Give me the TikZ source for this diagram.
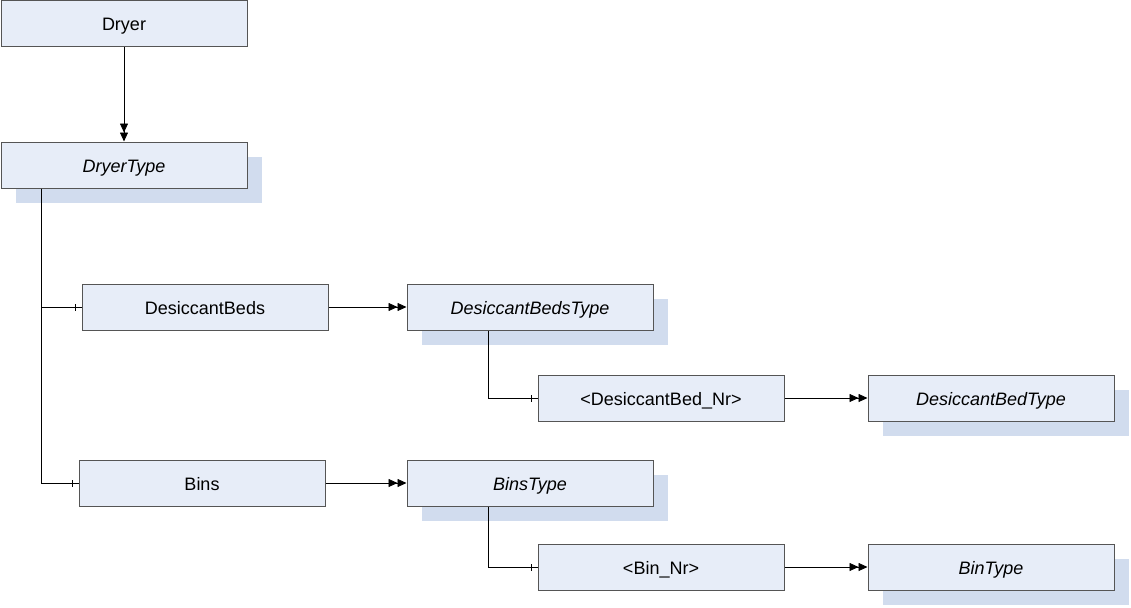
\documentclass[tikz,border=0pt]{standalone}
\usepackage{fontspec}
\setmainfont{Liberation Sans}
\usetikzlibrary{arrows.meta,shadows,decorations.markings}
\definecolor{boxfill}{HTML}{E7EDF8}
\definecolor{shadowfill}{HTML}{D1DCEE}
\definecolor{boxline}{HTML}{555555}
\tikzset{
  elem/.style={draw=boxline, line width=1pt, fill=boxfill, minimum width=246pt, minimum height=46pt,
    inner sep=0pt, text height=14.5pt, text depth=0.5pt, font=\fontsize{18}{21}\selectfont},
  typebox/.style={elem, font=\fontsize{18}{21}\selectfont\itshape,
    general shadow={fill=shadowfill, shadow xshift=15pt, shadow yshift=-15pt}},
  link/.style={line width=0.8pt, -{Triangle[length=9pt,width=8pt]Triangle[length=9pt,width=8pt]}},
  member/.style={line width=0.8pt, postaction={decorate},
    decoration={markings, mark=at position -6.5pt with {\draw[line width=0.8pt] (0,-3.5pt)--(0,3.5pt);}}}
}
\begin{document}
\begin{tikzpicture}[x=1pt,y=-1pt]
\useasboundingbox (0,0) rectangle (1131,607);
\node[elem] (Dryer) at (124,24) {Dryer};
\node[typebox] (DryerType) at (124,165) {DryerType};
\node[elem] (DesBeds) at (205,307) {DesiccantBeds};
\node[typebox] (DesBedsType) at (530,307) {DesiccantBedsType};
\node[elem] (DesBedNr) at (661,398) {<DesiccantBed\_Nr>};
\node[typebox] (DesBedType) at (991,398) {DesiccantBedType};
\node[elem] (Bins) at (202,483) {Bins};
\node[typebox] (BinsType) at (530,483) {BinsType};
\node[elem] (BinNr) at (661,567) {<Bin\_Nr>};
\node[typebox] (BinType) at (991,567) {BinType};

\draw[link] (Dryer) -- (DryerType);
\draw[member] (DryerType.south west) ++(41,0) |- (DesBeds.west);
\draw[member] (DryerType.south west) ++(41,0) |- (Bins.west);
\draw[link] (DesBeds) -- (DesBedsType);
\draw[link] (Bins) -- (BinsType);
\draw[member] (DesBedsType.south west) ++(82,0) |- (DesBedNr.west);
\draw[member] (BinsType.south west) ++(82,0) |- (BinNr.west);
\draw[link] (DesBedNr) -- (DesBedType);
\draw[link] (BinNr) -- (BinType);
\end{tikzpicture}
\end{document}
